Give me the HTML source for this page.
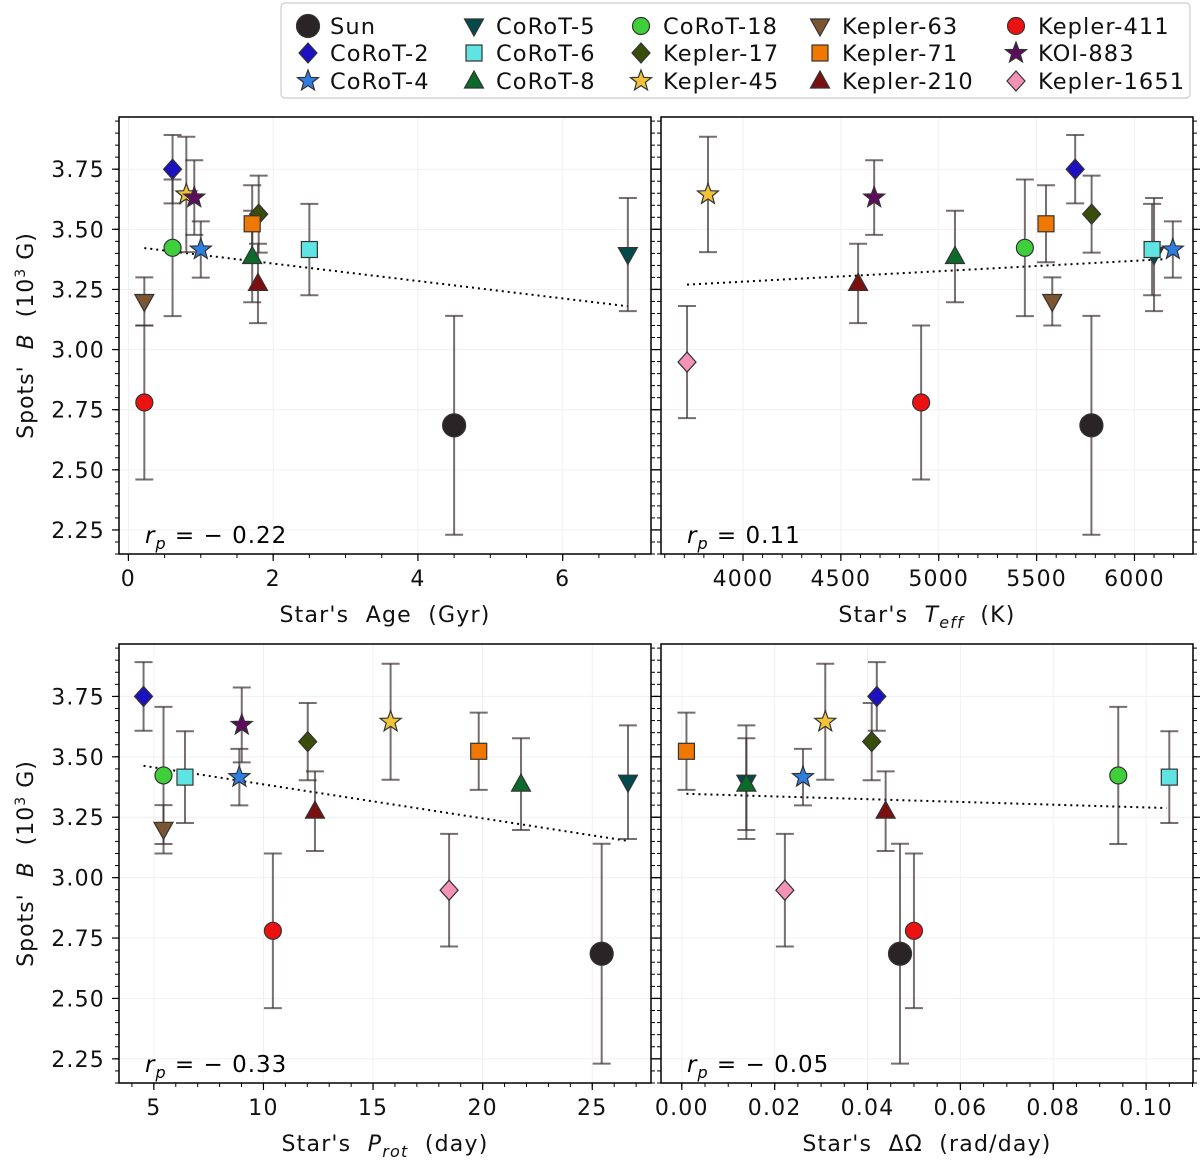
<!DOCTYPE html>
<html><head><meta charset="utf-8">
<style>
body{margin:0;background:#fff;}
svg{display:block;font-family:"DejaVu Sans","Liberation Sans",sans-serif;}
svg text{white-space:pre;}
</style></head>
<body>
<svg id="fig" width="1200" height="1165" viewBox="0 0 1200 1165" xmlns="http://www.w3.org/2000/svg"></svg>
<script>
const stars = ["Sun","CoRoT-2","CoRoT-4","CoRoT-5","CoRoT-6","CoRoT-8","CoRoT-18","Kepler-17","Kepler-45","Kepler-63","Kepler-71","Kepler-210","Kepler-411","KOI-883","Kepler-1651"];
const fieldB = [2.685,3.75,3.416,3.395,3.416,3.387,3.423,3.563,3.645,3.2,3.523,3.275,2.78,3.632,2.948];
const fieldErr = [0.455,0.142,0.117,0.235,0.19,0.19,0.284,0.16,0.24,0.1,0.16,0.165,0.32,0.155,0.233];
const ages = [4.5,0.61,1.0,6.9,2.5,1.71,0.61,1.8,0.8,0.22,1.71,1.79,0.22,0.91,null];
const teffs = [5780,5697,6196,6100,6090,5083,5440,5781,3821,5580,5548,4588,4910,4670,3714];
const prots = [25.43,4.53,8.9,26.63,6.42,21.75,5.44,12.02,15.8,5.44,19.82,12.35,10.43,9.01,18.47];
const dOmegas = [0.047,0.042,0.0261,0.0139,0.105,0.0139,0.094,0.0409,0.0309,null,0.001,0.0439,0.05,null,0.0222];
const ageFit = [[0.22,6.9],[3.422,3.18]];
const teffFit = [[3714,6160],[3.27,3.376]];
const protFit = [[4.53,26.63],[3.463,3.152]];
const dOmegaFit = [[0.001,0.1044],[3.347,3.288]];
const yTicks = [2.25,2.50,2.75,3.00,3.25,3.50,3.75];
const ageTicks = [0,2,4,6];
const teffTicks = [4000,4500,5000,5500,6000];
const protTicks = [5,10,15,20,25];
const dOmegaTicks = [0.00,0.02,0.04,0.06,0.08,0.10];
const rpValues = ["\u2212 0.22","0.11","\u2212 0.33","\u2212 0.05"];

const colors = ["#2a2426","#1c10c0","#2e7de0","#034a4d","#5fe3e3","#0c6a2a","#3fcf3a","#3a4e0b","#f2c238","#7b5631","#f07800","#7c1010","#ec1212","#5d0b5d","#f592ba"];
const shapes = ["sun","diamond","star","tdown","square","tup","circle","diamond","star","tdown","square","tup","circle","star","diamond"];

const NS="http://www.w3.org/2000/svg";
const svg=document.getElementById('fig');
function el(tag,attrs,parent){const e=document.createElementNS(NS,tag);for(const k in attrs)e.setAttribute(k,attrs[k]);(parent||svg).appendChild(e);return e;}

function marker(shape,cx,cy,color,parent){
  let e;const st={fill:color,stroke:"#333",'stroke-width':1.2};
  if(shape==="circle"){e=el('circle',Object.assign({cx,cy,r:8.5},st),parent);}
  else if(shape==="sun"){e=el('circle',Object.assign({cx,cy,r:11.5},st),parent);}
  else if(shape==="square"){e=el('rect',Object.assign({x:cx-8,y:cy-8,width:16,height:16},st),parent);}
  else if(shape==="diamond"){e=el('polygon',Object.assign({points:`${cx},${cy-10} ${cx+9},${cy} ${cx},${cy+10} ${cx-9},${cy}`},st),parent);}
  else if(shape==="tup"){e=el('polygon',Object.assign({points:`${cx},${cy-10} ${cx+9.5},${cy+7} ${cx-9.5},${cy+7}`},st),parent);}
  else if(shape==="tdown"){e=el('polygon',Object.assign({points:`${cx},${cy+10} ${cx+9.5},${cy-7} ${cx-9.5},${cy-7}`},st),parent);}
  else if(shape==="star"){let p=[];for(let i=0;i<10;i++){const r=i%2?4.6:11;const a=-Math.PI/2+i*Math.PI/5;p.push((cx+r*Math.cos(a)).toFixed(1)+","+(cy+r*Math.sin(a)).toFixed(1));}
    e=el('polygon',Object.assign({points:p.join(" ")},st),parent);}
  return e;
}

const panels=[
 {name:"age-panel",x0:119,x1:651,y0:117,y1:554,xmin:-0.13,xmax:7.22,xs:ages,ticks:ageTicks,minor:0.5,fmt:v=>String(v),fit:ageFit,rp:rpValues[0],title:"Star's  Age  (Gyr)",ylab:true},
 {name:"teff-panel",x0:661,x1:1193,y0:117,y1:554,xmin:3581,xmax:6299,xs:teffs,ticks:teffTicks,minor:100,fmt:v=>String(v),fit:teffFit,rp:rpValues[1],title:"teff",ylab:false},
 {name:"prot-panel",x0:119,x1:651,y0:644,y1:1083,xmin:3.41,xmax:27.68,xs:prots,ticks:protTicks,minor:1,fmt:v=>String(v),fit:protFit,rp:rpValues[2],title:"prot",ylab:true},
 {name:"domega-panel",x0:661,x1:1193,y0:644,y1:1083,xmin:-0.00448,xmax:0.1101,xs:dOmegas,ticks:dOmegaTicks,minor:0.005,fmt:v=>v.toFixed(2),fit:dOmegaFit,rp:rpValues[3],title:"Star's  \u0394\u03A9  (rad/day)",ylab:false}
];
const YMIN=2.15,YMAX=3.967;

panels.forEach((P,pi)=>{
  const g=el('g',{});
  
  
  const sx=v=>P.x0+(v-P.xmin)/(P.xmax-P.xmin)*(P.x1-P.x0);
  const sy=v=>P.y1-(v-YMIN)/(YMAX-YMIN)*(P.y1-P.y0);
  P.ticks.forEach(t=>{el('line',{x1:sx(t),x2:sx(t),y1:P.y0,y2:P.y1,stroke:"#f0f0f0",'stroke-width':1},g);});
  yTicks.forEach(t=>{el('line',{x1:P.x0,x2:P.x1,y1:sy(t),y2:sy(t),stroke:"#f0f0f0",'stroke-width':1},g);});
  for(let v=Math.ceil(P.xmin/P.minor)*P.minor;v<=P.xmax;v+=P.minor){el('line',{x1:sx(v),x2:sx(v),y1:P.y1,y2:P.y1+4,stroke:"#000",'stroke-width':1},g);}
  for(let v=2.15;v<=3.967;v+=0.05){const y=sy(Math.round(v*100)/100);el('line',{x1:P.x0-4,x2:P.x0,y1:y,y2:y,stroke:"#000",'stroke-width':1},g);el('line',{x1:P.x1,x2:P.x1+4,y1:y,y2:y,stroke:"#000",'stroke-width':1},g);}
  const xl=el('g',{},g);
  P.ticks.forEach(t=>{el('line',{x1:sx(t),x2:sx(t),y1:P.y1,y2:P.y1+7,stroke:"#000",'stroke-width':1.2},g);
    const tx=el('text',{x:sx(t),y:P.y1+32,'font-size':22,'letter-spacing':1.2,'text-anchor':'middle',fill:'#111'},xl);tx.textContent=P.fmt(t);});
  yTicks.forEach(t=>{el('line',{x1:P.x0-7,x2:P.x0,y1:sy(t),y2:sy(t),stroke:"#000",'stroke-width':1.2},g);
    el('line',{x1:P.x1,x2:P.x1+7,y1:sy(t),y2:sy(t),stroke:"#000",'stroke-width':1.2},g);
    if(P.ylab){const tx=el('text',{x:P.x0-14,y:sy(t)+8,'font-size':22,'letter-spacing':1.2,'text-anchor':'end',fill:'#111'},g);tx.textContent=t.toFixed(2);}});
  const fl=el('line',{x1:sx(P.fit[0][0]),y1:sy(P.fit[1][0]),x2:sx(P.fit[0][1]),y2:sy(P.fit[1][1]),stroke:"#000",'stroke-width':2,'stroke-dasharray':'2 4'},g);
  
  
  stars.forEach((s,i)=>{const xv=P.xs[i];if(xv===null)return;const x=sx(xv);
    const eb=el('g',{stroke:"rgba(60,50,50,0.7)",'stroke-width':2},g);
    
    
    const yt=sy(fieldB[i]+fieldErr[i]),yb=sy(fieldB[i]-fieldErr[i]);
    el('line',{x1:x,x2:x,y1:yt,y2:yb},eb);el('line',{x1:x-9,x2:x+9,y1:yt,y2:yt},eb);el('line',{x1:x-9,x2:x+9,y1:yb,y2:yb},eb);});
  stars.forEach((s,i)=>{const xv=P.xs[i];if(xv===null)return;
    const m=marker(shapes[i],sx(xv),sy(fieldB[i]),colors[i],g);
    
    });
  el('rect',{x:P.x0,y:P.y0,width:P.x1-P.x0,height:P.y1-P.y0,fill:'none',stroke:'#000','stroke-width':1.5},g);
  const rp=el('text',{x:P.x0+26,y:P.y1-11,'font-size':23,'letter-spacing':1,fill:'#000'},g);
  
  
  rp.innerHTML='<tspan font-style="italic">r</tspan><tspan font-style="italic" font-size="16" dy="6">p</tspan><tspan dy="-6"> = '+P.rp+'</tspan>';
  const xt=el('text',{x:(P.x0+P.x1)/2,y:P.y1+68,'font-size':22,'letter-spacing':1.2,'text-anchor':'middle',fill:'#111'},g);
  
  
  if(P.title==="teff") xt.innerHTML="Star's  <tspan font-style='italic'>T</tspan><tspan font-style='italic' font-size='16' dy='6'>eff</tspan><tspan dy='-6'>  (K)</tspan>";
  else if(P.title==="prot") xt.innerHTML="Star's  <tspan font-style='italic'>P</tspan><tspan font-style='italic' font-size='16' dy='6'>rot</tspan><tspan dy='-6'>  (day)</tspan>";
  else xt.textContent=P.title;
  if(P.ylab){const yt=el('text',{x:0,y:0,'font-size':22,'letter-spacing':1,'text-anchor':'middle',fill:'#111',transform:`translate(33,${(P.y0+P.y1)/2}) rotate(-90)`},g);
    
    
    yt.innerHTML="Spots'  <tspan font-style='italic'>B</tspan>  (10<tspan font-size='14' dy='-8'>3</tspan><tspan dy='8'> G)</tspan>";}
});

const lg=el('g',{});


el('rect',{x:281,y:3,width:909,height:95,rx:4,fill:'#fff',stroke:'#ccc','stroke-width':1.2},lg);
const colMarkX=[308,474,641,820,1016];
const rowY=[26,53,81];
stars.forEach((s,i)=>{const c=Math.floor(i/3),r=i%3;
  const e=el('g',{},lg);
  
  
  marker(shapes[i],colMarkX[c],rowY[r],colors[i],e);
  const t=el('text',{x:colMarkX[c]+22,y:rowY[r]+8,'font-size':22.5,'letter-spacing':1.1,fill:'#111'},e);t.textContent=s;});
</script>
</body></html>
